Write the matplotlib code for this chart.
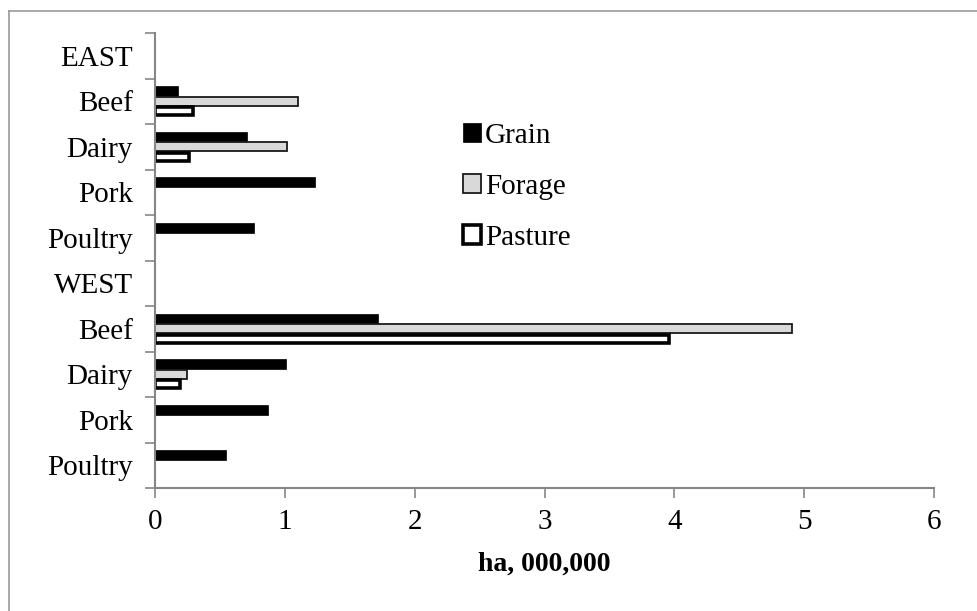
import numpy as np
import matplotlib.pyplot as plt
from matplotlib.patches import Patch
from matplotlib.lines import Line2D

plt.rcParams['font.family'] = ['Liberation Serif', 'DejaVu Serif']

categories = ['EAST', 'Beef', 'Dairy', 'Pork', 'Poultry',
              'WEST', 'Beef', 'Dairy', 'Pork', 'Poultry']
grain = [0, 0.18, 0.71, 1.23, 0.76, 0, 1.72, 1.01, 0.87, 0.55]
forage = [0, 1.10, 1.02, 0, 0, 0, 4.91, 0.25, 0, 0]
pasture = [0, 0.29, 0.26, 0, 0, 0, 3.96, 0.19, 0, 0]
xticks = [0, 1, 2, 3, 4, 5, 6]

axcol = '#868686'
fs = 21
fig = plt.figure(figsize=(9.77, 6.11), dpi=100)
ax = fig.add_axes([155/977, 1-488/611, (934-155)/977, (488-33)/611])

y = np.arange(len(categories))
h = 0.22


def bars(vals, offset, height, **kw):
    vals = np.asarray(vals)
    keep = vals > 0
    ax.barh(y[keep] + offset, vals[keep], height=height, **kw)


bars(grain, -h, h, color='black', edgecolor='black', linewidth=0.5)
bars(forage, 0, h*0.92, color='#d9d9d9', edgecolor='#1a1a1a', linewidth=1.3)
bars(pasture, h, h*0.82, color='white', edgecolor='black', linewidth=2.6)

ax.set_xlim(0, 6)
ax.set_ylim(len(categories) - 0.5, -0.5)
ax.set_xticks(xticks)
ax.set_xticklabels([str(t) for t in xticks], fontsize=fs)
ax.set_yticks(y)
ax.set_yticklabels(categories, fontsize=fs)
ax.set_yticks(np.arange(-0.5, len(categories)), minor=True)
ax.tick_params(axis='y', which='major', length=0, pad=16)
ax.tick_params(axis='y', which='minor', length=7, color=axcol, width=1.2)
ax.tick_params(axis='x', length=7, color=axcol, width=1.2, pad=8)
for s in ['top', 'right']:
    ax.spines[s].set_visible(False)
for s in ['left', 'bottom']:
    ax.spines[s].set_color(axcol)
    ax.spines[s].set_linewidth(1.5)
ax.set_xlabel('ha, 000,000', fontsize=20, fontweight='bold', labelpad=12)

handles = [Patch(facecolor='black', edgecolor='black', linewidth=0.5),
           Patch(facecolor='#d9d9d9', edgecolor='#1a1a1a', linewidth=1.3),
           Patch(facecolor='white', edgecolor='black', linewidth=2.6)]
fig.legend(handles, ['Grain', 'Forage', 'Pasture'], loc='upper left',
           bbox_to_anchor=(463/977, 1-123/611), frameon=False, fontsize=fs,
           borderpad=0, borderaxespad=0,
           handlelength=0.6, handleheight=0.6, handletextpad=0.15, labelspacing=0.85)

# outer chart frame
fig.add_artist(Line2D([9/977, 1], [1-11/611, 1-11/611], color='#9a9a9a', lw=1.2))
fig.add_artist(Line2D([9/977, 9/977], [0, 1-11/611], color='#9a9a9a', lw=1.2))

fig.savefig('out.png', dpi=100)
